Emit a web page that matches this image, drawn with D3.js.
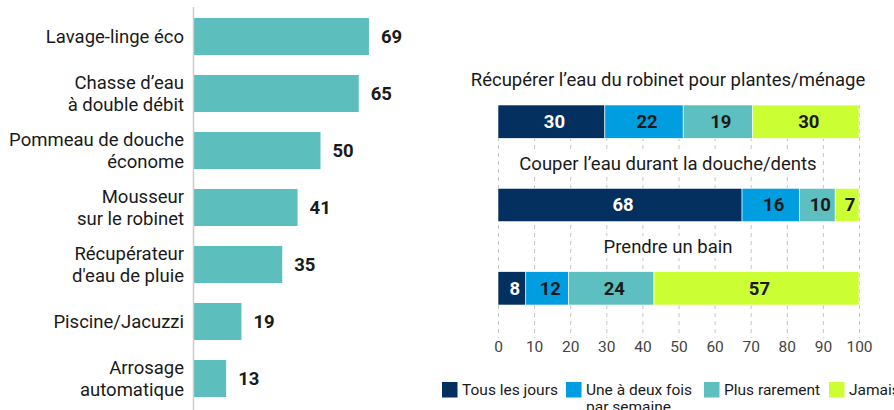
<!DOCTYPE html>
<html>
<head>
<meta charset="utf-8">
<script src="https://cdn.jsdelivr.net/npm/d3@7"></script>
<style>
  html, body { margin: 0; padding: 0; background: #fff; }
  svg { display: block; font-family: Roboto, "Noto Sans", sans-serif; }
</style>
</head>
<body>
<svg id="chart" width="894" height="410"></svg>
<script>
// ---------- Data ----------
const equipCategories = [
  ["Lavage-linge éco"],
  ["Chasse d’eau", "à double débit"],
  ["Pommeau de douche", "économe"],
  ["Mousseur", "sur le robinet"],
  ["Récupérateur", "d'eau de pluie"],
  ["Piscine/Jacuzzi"],
  ["Arrosage", "automatique"]
];
const equipValues = [69, 65, 50, 41, 35, 19, 13];

const habitCategories = [
  "Récupérer l’eau du robinet pour plantes/ménage",
  "Couper l’eau durant la douche/dents",
  "Prendre un bain"
];
const seriesNames = ["Tous les jours", "Une à deux fois par semaine", "Plus rarement", "Jamais"];
const seriesLegendLines = [["Tous les jours"], ["Une à deux fois", "par semaine"], ["Plus rarement"], ["Jamais"]];
const tousLesJours = [29.6, 67.6, 7.7];
const uneADeuxFois = [21.7, 15.9, 11.9];
const plusRarement = [19.2, 9.9, 23.6];
const jamais = [29.5, 6.6, 56.8];
const segmentLabels = [
  [30, 22, 19, 30],
  [68, 16, 10, 7],
  [8, 12, 24, 57]
];
const xTicks = [0, 10, 20, 30, 40, 50, 60, 70, 80, 90, 100];
const seriesColors = ["#03305f", "#009ee0", "#5dbfbf", "#ccff33"];
const seriesTextColors = ["#ffffff", "#1a1a1a", "#1a1a1a", "#1a1a1a"];

// ---------- Setup ----------
const svg = d3.select("#chart");
const textColor = "#1a1a1a";

// ---------- Left chart ----------
const leftIdx = d3.range(equipValues.length);
const xL = d3.scaleLinear().domain([0, 100]).range([193, 448]);
const yL = d3.scaleBand().domain(leftIdx).range([8, 407]).paddingInner(0.35).paddingOuter(0.175);

const left = svg.append("g");
left.selectAll("rect.bar").data(leftIdx).join("rect")
  .attr("class", "bar")
  .attr("x", xL(0))
  .attr("y", i => yL(i))
  .attr("width", i => xL(equipValues[i]) - xL(0))
  .attr("height", yL.bandwidth())
  .attr("fill", "#5dbebe");

left.append("line")
  .attr("x1", xL(0) + 0.5).attr("x2", xL(0) + 0.5)
  .attr("y1", 7).attr("y2", 410)
  .attr("stroke", "#cccccc").attr("stroke-width", 1.5);

left.selectAll("text.val").data(leftIdx).join("text")
  .attr("class", "val")
  .attr("x", i => xL(equipValues[i]) + 12)
  .attr("y", i => yL(i) + yL.bandwidth() / 2)
  .attr("dy", "0.35em")
  .attr("font-size", 18.5)
  .attr("font-weight", 700)
  .attr("fill", textColor)
  .text(i => equipValues[i]);

const catG = left.selectAll("text.cat").data(leftIdx).join("text")
  .attr("class", "cat")
  .attr("text-anchor", "end")
  .attr("font-size", 18.5)
  .attr("fill", textColor);
catG.each(function(i) {
  const lines = equipCategories[i];
  const cy = yL(i) + yL.bandwidth() / 2;
  const lh = 22;
  const t = d3.select(this);
  lines.forEach((ln, k) => {
    t.append("tspan")
      .attr("x", 184)
      .attr("y", cy + (k - (lines.length - 1) / 2) * lh)
      .attr("dy", "0.35em")
      .text(ln);
  });
});

// ---------- Right chart ----------
const habitIdx = d3.range(habitCategories.length);
const xR = d3.scaleLinear().domain([0, 100]).range([498, 859]);
const yR = d3.scaleBand().domain(habitIdx).range([105, 305]).paddingInner(0.6).paddingOuter(0);

const seriesData = [tousLesJours, uneADeuxFois, plusRarement, jamais];
const table = habitIdx.map(i => {
  const o = { idx: i };
  seriesNames.forEach((s, k) => o[s] = seriesData[k][i]);
  return o;
});
const stacked = d3.stack().keys(seriesNames)(table);

const right = svg.append("g");

// gridlines
right.selectAll("line.grid").data(xTicks).join("line")
  .attr("class", "grid")
  .attr("x1", d => xR(d) + 0.5).attr("x2", d => xR(d) + 0.5)
  .attr("y1", 105).attr("y2", 338)
  .attr("stroke", "#c4c4c4")
  .attr("stroke-width", 1)
  .attr("stroke-dasharray", "4,4");

// titles with white background
habitIdx.forEach(i => {
  const g = right.append("g");
  const t = g.append("text")
    .attr("x", 668)
    .attr("y", yR(i) - 25)
    .attr("dy", "0.35em")
    .attr("text-anchor", "middle")
    .attr("font-size", 18.5)
    .attr("fill", textColor)
    .text(habitCategories[i]);
  const bb = t.node().getBBox();
  g.insert("rect", "text")
    .attr("x", bb.x - 2).attr("y", bb.y)
    .attr("width", bb.width + 4).attr("height", bb.height)
    .attr("fill", "#fff");
});

// stacked bars
const layers = right.selectAll("g.layer").data(stacked).join("g")
  .attr("class", "layer")
  .attr("fill", (d, k) => seriesColors[k]);
layers.selectAll("rect").data(d => d).join("rect")
  .attr("x", d => xR(d[0]))
  .attr("y", d => yR(d.data.idx))
  .attr("width", d => xR(d[1]) - xR(d[0]))
  .attr("height", yR.bandwidth())
  .attr("stroke", "#ffffff")
  .attr("stroke-width", 0.6);

// segment labels
stacked.forEach((layer, k) => {
  right.selectAll(null).data(layer).join("text")
    .attr("x", d => (xR(d[0]) + xR(d[1])) / 2 + 3)
    .attr("y", d => yR(d.data.idx) + yR.bandwidth() / 2)
    .attr("dy", "0.35em")
    .attr("text-anchor", "middle")
    .attr("font-size", 18.5)
    .attr("font-weight", 700)
    .attr("fill", seriesTextColors[k])
    .text(d => segmentLabels[d.data.idx][k]);
});

// x axis (tick labels only)
const axis = right.append("g")
  .attr("transform", "translate(0,339)")
  .call(d3.axisBottom(xR).tickValues(xTicks).tickSize(0).tickPadding(2));
axis.select(".domain").remove();
axis.selectAll("text")
  .attr("font-family", "Roboto, sans-serif")
  .attr("font-size", 15.5)
  .attr("fill", "#444");

// legend
const legendX = [442, 566, 704, 829];
const legend = right.selectAll("g.leg").data(seriesNames).join("g")
  .attr("class", "leg")
  .attr("transform", (d, k) => `translate(${legendX[k]},382)`);
legend.append("rect")
  .attr("width", 15.5).attr("height", 15.5)
  .attr("fill", (d, k) => seriesColors[k]);
legend.append("text")
  .attr("font-size", 15.5)
  .attr("fill", textColor)
  .each(function(d, k) {
    const t = d3.select(this);
    seriesLegendLines[k].forEach((ln, j) => {
      t.append("tspan").attr("x", 20).attr("y", 8 + j * 17).attr("dy", "0.35em").text(ln);
    });
  });
</script>
</body>
</html>
